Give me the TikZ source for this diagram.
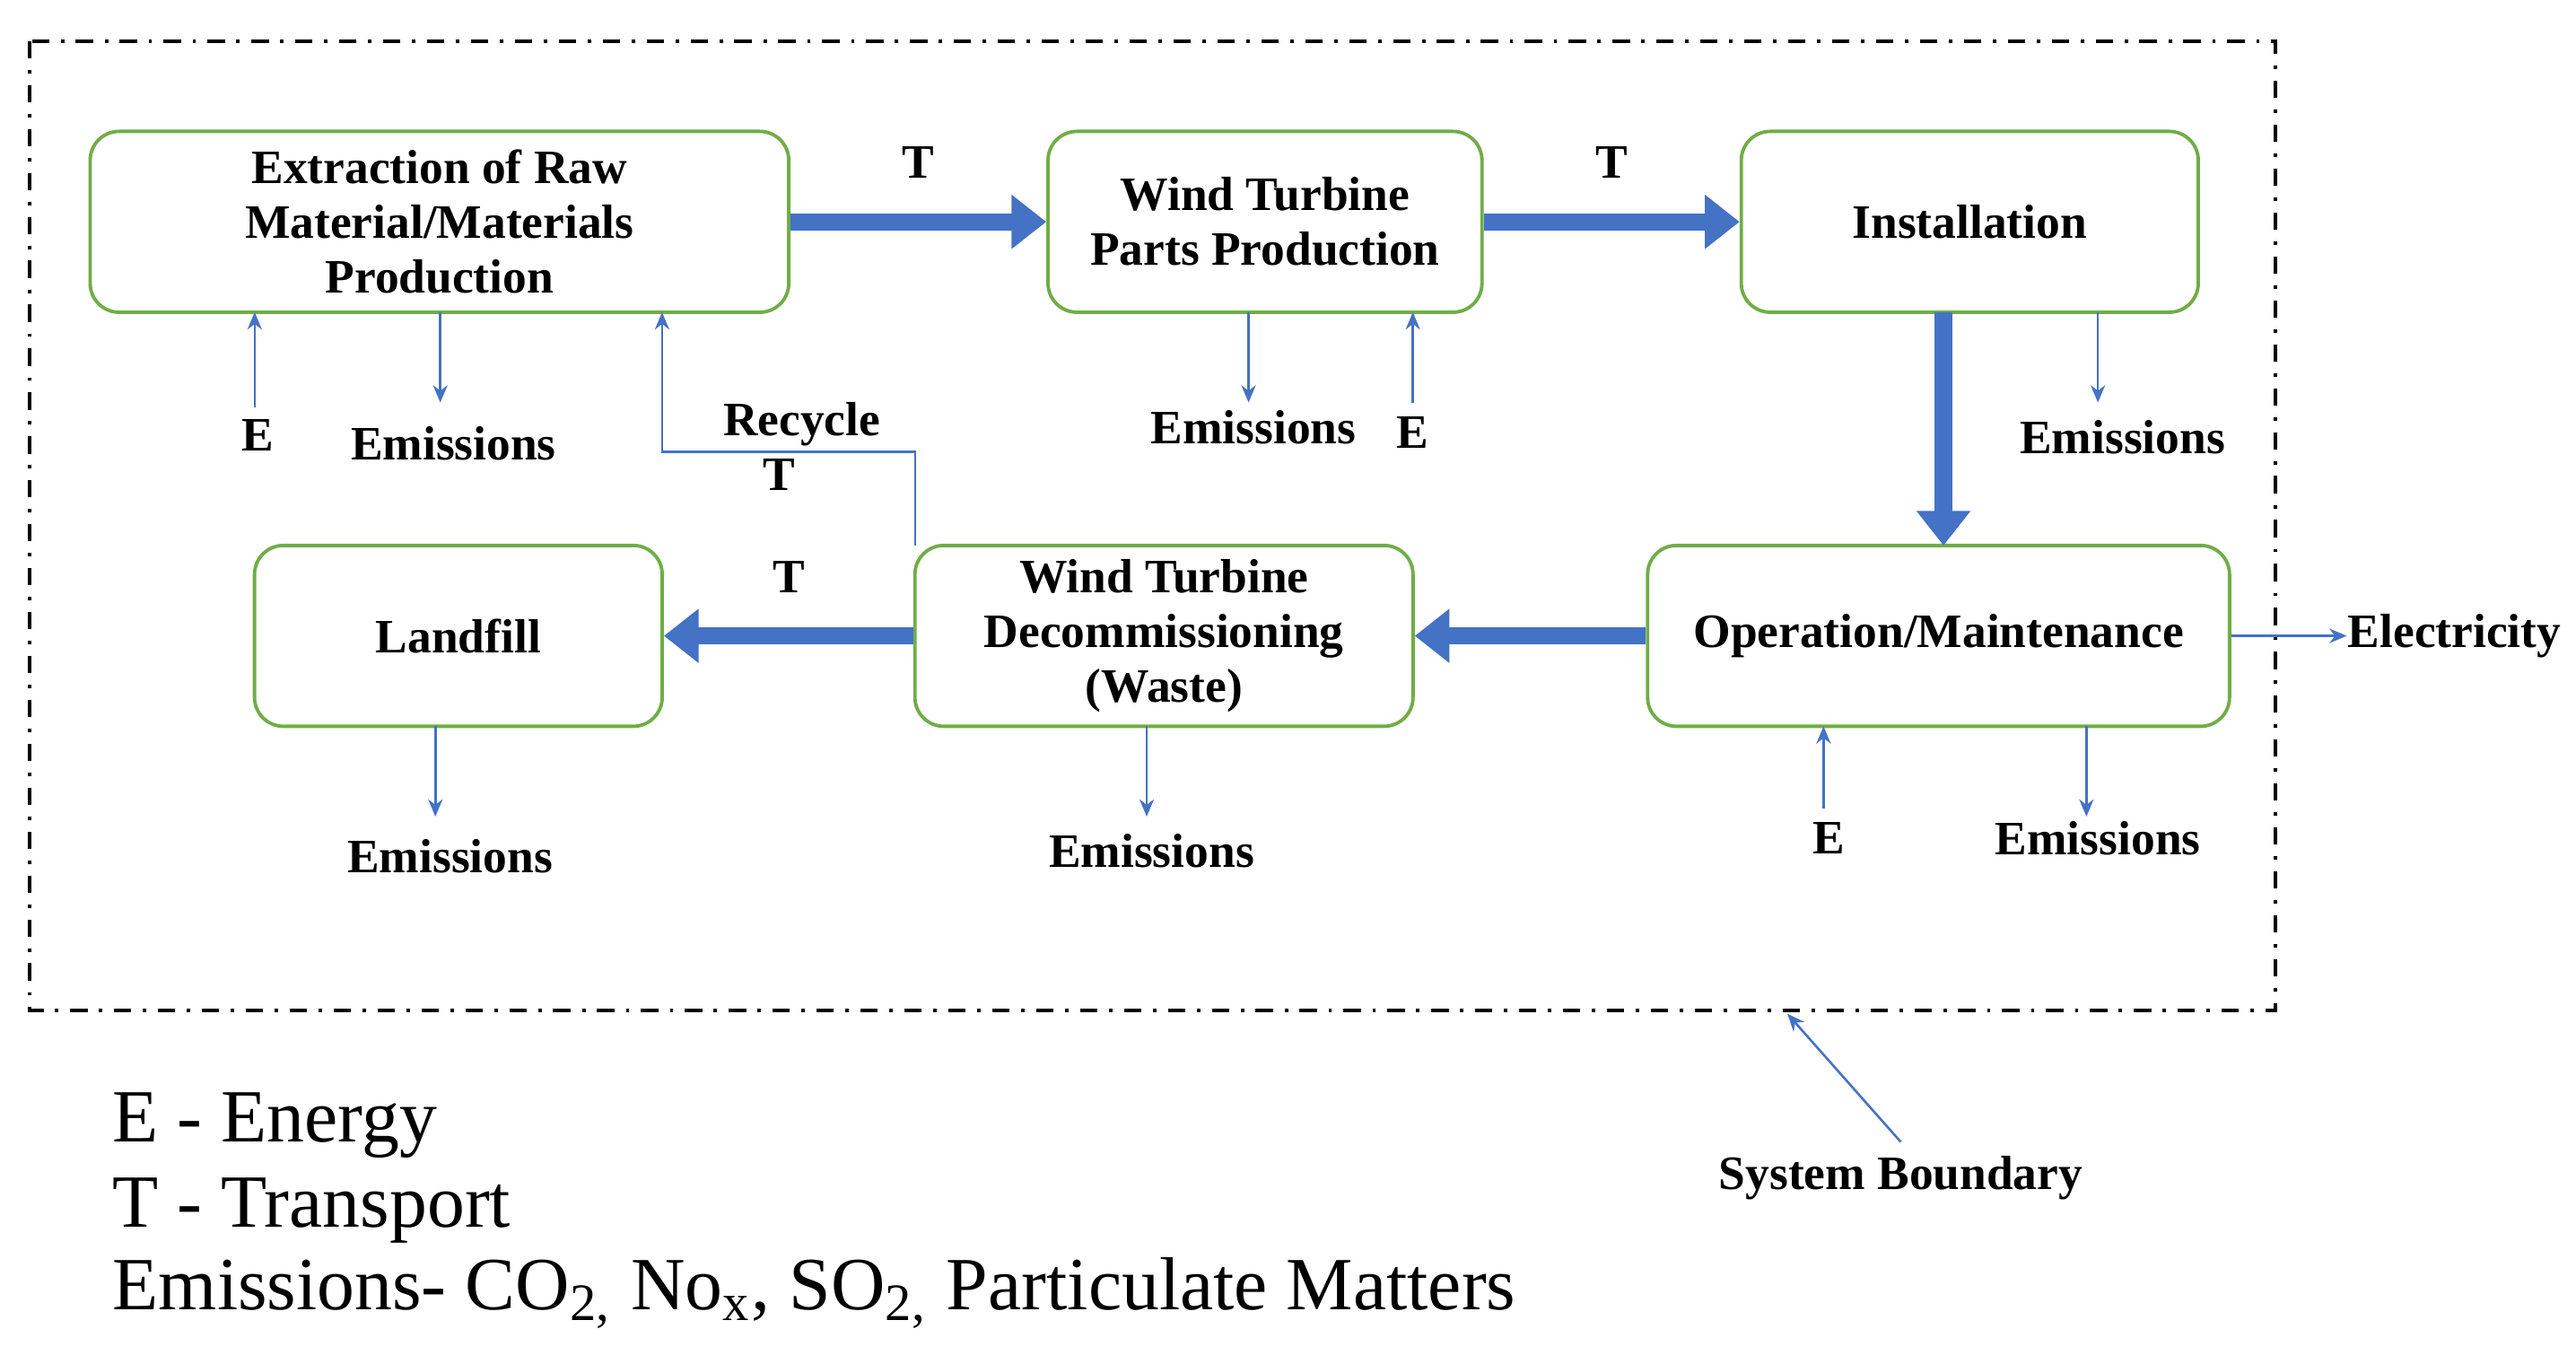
\documentclass[tikz,border=0pt]{standalone}
\usepackage{fontspec}
\setmainfont{Liberation Serif}
\usetikzlibrary{arrows.meta}
\definecolor{bl}{HTML}{4472C4}
\definecolor{gr}{HTML}{70AD47}
\begin{document}
\begin{tikzpicture}[x=0.01cm,y=-0.01cm,
 box/.style={draw=gr,line width=0.6pt,rounded corners=5pt,font=\fontsize{8.3}{9.5}\selectfont\bfseries,align=center,inner sep=0},
 lab/.style={font=\fontsize{8.3}{9}\selectfont\bfseries,inner sep=0},
 thick/.style={draw=bl,line width=3pt,-{Triangle[length=6pt,width=9pt]}},
 thin/.style={draw=bl,line width=0.4pt,-{Stealth[length=3pt,width=2.5pt]}},
 leg/.style={font=\fontsize{13}{15}\selectfont,anchor=west,inner sep=0}]
\useasboundingbox (0,0) rectangle (1568,830);
\draw[line width=0.6pt,dash dot] (18,25) rectangle (1385,615);
\node[box,minimum width=4.25cm,minimum height=1.1cm] (ext) at (267.5,135) {Extraction of Raw\\Material/Materials\\Production};
\node[box,minimum width=2.64cm,minimum height=1.1cm] (wt) at (770,135) {Wind Turbine\\Parts Production};
\node[box,minimum width=2.78cm,minimum height=1.1cm] (ins) at (1199,135) {Installation};
\node[box,minimum width=2.48cm,minimum height=1.1cm] (lf) at (279,387) {Landfill};
\node[box,minimum width=3.03cm,minimum height=1.1cm] (dec) at (708.5,387) {Wind Turbine\\Decommissioning\\(Waste)};
\node[box,minimum width=3.54cm,minimum height=1.1cm] (op) at (1180,387) {Operation/Maintenance};
\draw[thick] (ext.east) -- (wt.west) node[lab,midway,above=6pt] {T};
\draw[thick] (wt.east) -- (ins.west) node[lab,midway,above=6pt] {T};
\draw[thick] (1183,190) -- (1183,332);
\draw[thick] (op.west) -- (dec.east);
\draw[thick] (dec.west) -- (lf.east) node[lab,midway,above=6pt] {T};
% extraction
\node[lab] (e1) at (157,265) {E};
\draw[thin] (155,248) -- (155,190);
\node[lab] (em1) at (276,270) {Emissions};
\draw[thin] (268,190) -- (268,245);
% recycle
\draw[thin] (557,332) -- (557,275) -- (403,275) -- (403,190);
\node[lab] (rec) at (488,258) {Recycle};
\node[lab] (rt) at (474,289) {T};
% wt
\node[lab] (em2) at (763,260) {Emissions};
\draw[thin] (760,190) -- (760,245);
\node[lab] (e2) at (860,263) {E};
\draw[thin] (860,245) -- (860,190);
% installation
\node[lab] (em3) at (1292,266) {Emissions};
\draw[thin] (1277,190) -- (1277,245);
% operation
\node[lab] (e3) at (1113,510) {E};
\draw[thin] (1110,492) -- (1110,442);
\node[lab] (em4) at (1277,510) {Emissions};
\draw[thin] (1270,442) -- (1270,497);
\node[lab] (el) at (1494,387) {Electricity};
\draw[thin] (op.east) -- (el.west);
% decom, landfill
\node[lab] (em5) at (701,518) {Emissions};
\draw[thin] (698,442) -- (698,497);
\node[lab] (em6) at (274,521) {Emissions};
\draw[thin] (265,442) -- (265,497);
% system boundary
\node[lab] (sb) at (1157,717) {System Boundary};
\draw[thin] (1157,695) -- (1088,617);
% legend
\node[leg] (l1) at (68,685) {E - Energy};
\node[leg] (l2) at (68,737) {T - Transport};
\node[leg] (l3) at (68,787) {Emissions- CO\textsubscript{2,} No\textsubscript{x}, SO\textsubscript{2,} Particulate Matters};
\end{tikzpicture}
\end{document}
